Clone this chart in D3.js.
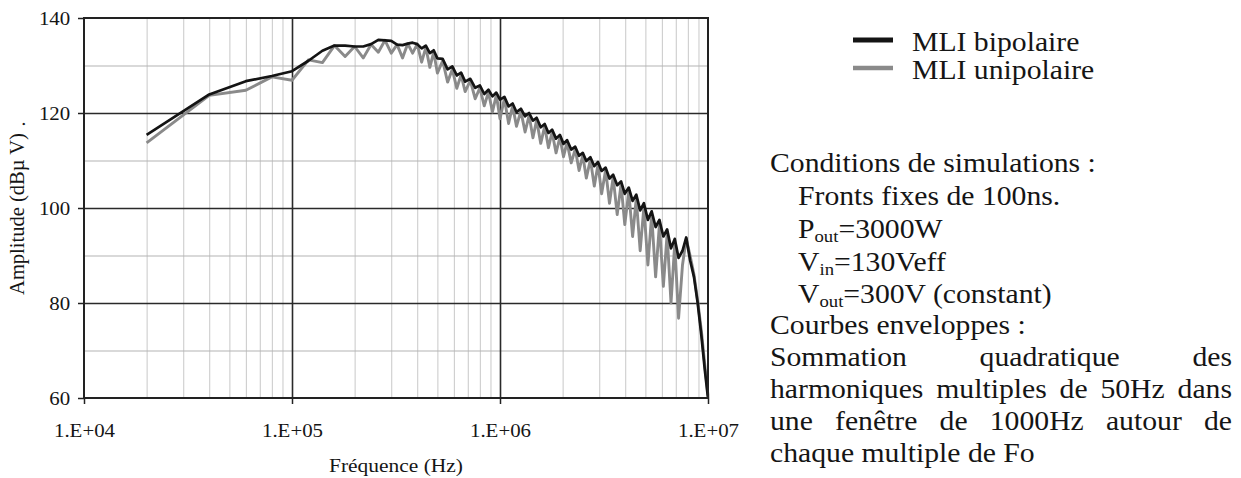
<!DOCTYPE html>
<html><head><meta charset="utf-8">
<script src="https://cdn.jsdelivr.net/npm/d3@7/dist/d3.min.js"></script>
<style>
body{margin:0;background:#fff}
svg{display:block}
text{font-family:"Liberation Serif","Times New Roman",serif;fill:#151515}
</style>
</head><body>
<svg id="chart" width="1241" height="478"></svg>
<script>
// ---- data (frequencies in kHz, amplitudes in dBµV) ----
const freqKHz = [20,40,60,80,100,120,140,160,180,200,220,240,260,280,300,320,340,360,380,400,
  420,440,460,480,500,530,560,590,620,650,680,720,760,800,840,880,920,960,1000,
  1050,1100,1150,1200,1260,1320,1380,1440,1500,1570,1640,1710,1780,1860,1940,2020,2100,
  2200,2300,2400,2500,2600,2720,2840,2960,3080,3220,3360,3500,3660,3820,3980,4160,
  4340,4520,4720,4920,5140,5360,5600,5840,6100,6360,6640,6920,
  7220,7540,7860,8200,8560,8920,9300,9650,10000];

const bipolaire = [115.4,123.9,126.7,127.8,128.8,131.0,133.1,134.2,134.2,134.0,134.0,134.5,135.4,135.3,135.2,134.4,134.3,134.6,134.8,134.5,
  133.6,134.2,132.6,133.2,131.5,131.4,129.2,129.8,127.9,128.5,
  126.6,127.2,125.3,125.8,124.0,124.9,123.5,124.3,122.8,123.4,
  121.4,122.0,120.2,120.9,119.3,120.0,118.4,119.0,117.0,117.7,
  115.8,116.5,114.6,115.4,113.5,114.3,112.3,112.9,111.0,111.6,
  109.9,110.7,108.8,109.7,107.8,108.5,106.2,107.0,104.8,105.6,
  103.0,104.3,101.5,102.8,99.5,101.0,97.5,99.3,96.0,97.5,
  94.0,95.5,91.5,93.5,89.5,91.0,93.8,89.0,85.5,80.0,
  73.0,66.0,60.0];

const unipolaire = [113.7,123.7,124.8,127.6,126.9,131.2,130.6,134.2,131.9,134.0,131.6,134.4,132.8,135.3,132.6,134.4,131.6,134.6,132.6,134.5,
  130.7,133.8,129.6,132.8,128.4,131.0,126.5,129.2,125.2,128.0,
  124.5,126.8,123.0,125.3,121.5,124.4,120.2,123.8,118.8,123.0,
  117.8,121.5,117.2,120.4,116.0,119.5,114.8,118.5,113.6,117.2,
  112.7,116.0,111.6,114.9,110.8,113.8,109.5,112.4,107.9,111.1,
  106.3,110.2,104.6,109.2,103.0,108.0,101.0,106.5,98.6,105.0,
  96.5,103.5,94.0,102.0,91.0,100.3,88.0,98.5,85.5,96.5,
  83.5,94.5,80.0,92.5,76.8,88.0,93.5,90.0,86.0,80.5,
  74.0,67.0,60.5];

const yTickValues = [60,80,100,120,140];
const yMinorValues = [70,90,110,130];
const xTickValues = [1e4,1e5,1e6,1e7];
const xTickLabels = ["1.E+04","1.E+05","1.E+06","1.E+07"];
const xMinorMultipliers = [2,3,4,5,6,7,8,9];
const legendLabels = ["MLI bipolaire","MLI unipolaire"];
const seriesColors = ["#141414","#8a8a8a"];
const xTitle = "Fréquence (Hz)";
const yTitle = "Amplitude (dBµ V)";

// ---- layout ----
const SX = 1.1; // horizontal stretch of the scanned text
const svg = d3.select("#chart");
const L = 84, R = 708, T = 18, B = 398;
const x = d3.scaleLog().domain([1e4,1e7]).range([L,R]);
const y = d3.scaleLinear().domain([60,140]).range([B,T]);

svg.append("rect").attr("width",1241).attr("height",478).attr("fill","#fff");

// minor grid (vertical)
const minorX = [];
[1e4,1e5,1e6].forEach(d => xMinorMultipliers.forEach(k => minorX.push(k*d)));
svg.append("g").attr("transform",`translate(0,${B})`)
  .call(d3.axisBottom(x).tickValues(minorX).tickSize(-(B-T)).tickFormat(""))
  .call(g => g.select(".domain").remove())
  .selectAll("line").attr("stroke","#c8c8c8").attr("stroke-width",1);
// minor grid (horizontal)
svg.append("g").attr("transform",`translate(${L},0)`)
  .call(d3.axisLeft(y).tickValues(yMinorValues).tickSize(-(R-L)).tickFormat(""))
  .call(g => g.select(".domain").remove())
  .selectAll("line").attr("stroke","#b4b4b4").attr("stroke-width",1.2);
// major grid
svg.append("g").attr("transform",`translate(0,${B})`)
  .call(d3.axisBottom(x).tickValues([1e5,1e6]).tickSize(-(B-T)).tickFormat(""))
  .call(g => g.select(".domain").remove())
  .selectAll("line").attr("stroke","#2a2a2a").attr("stroke-width",1.6);
svg.append("g").attr("transform",`translate(${L},0)`)
  .call(d3.axisLeft(y).tickValues([80,100,120]).tickSize(-(R-L)).tickFormat(""))
  .call(g => g.select(".domain").remove())
  .selectAll("line").attr("stroke","#2a2a2a").attr("stroke-width",1.6);

// curves
const rows = freqKHz.map((f,i) => ({f:f*1000, b:bipolaire[i], u:unipolaire[i]}));
const lineU = d3.line().x(d => x(d.f)).y(d => y(d.u));
const lineB = d3.line().x(d => x(d.f)).y(d => y(d.b));
svg.append("path").datum(rows).attr("d",lineU).attr("fill","none")
  .attr("stroke",seriesColors[1]).attr("stroke-width",2.9).attr("stroke-linejoin","round");
svg.append("path").datum(rows).attr("d",lineB).attr("fill","none")
  .attr("stroke",seriesColors[0]).attr("stroke-width",2.7).attr("stroke-linejoin","round");

// frame
svg.append("rect").attr("x",L).attr("y",T).attr("width",R-L).attr("height",B-T)
  .attr("fill","none").attr("stroke","#222").attr("stroke-width",2);

// axes
const yAx = svg.append("g").attr("transform",`translate(${L},0)`)
  .call(d3.axisLeft(y).tickValues(yTickValues).tickSize(6).tickFormat(d3.format("d")));
yAx.select(".domain").remove();
yAx.selectAll("line").attr("stroke","#222").attr("stroke-width",1.5);
yAx.selectAll("text").attr("font-family",null).attr("font-size",19).attr("fill","#151515")
  .attr("x",-12.5).attr("dy","0.34em").attr("transform",`scale(${SX},1)`);

const xAx = svg.append("g").attr("transform",`translate(0,${B})`)
  .call(d3.axisBottom(x).tickValues(xTickValues).tickSize(6).tickFormat((d,i) => xTickLabels[i]));
xAx.select(".domain").remove();
xAx.selectAll("line").attr("stroke","#222").attr("stroke-width",1.5);
xAx.selectAll("text").attr("font-family",null).attr("font-size",19).attr("fill","#151515")
  .attr("y",26).attr("transform",`scale(${SX},1)`);

// axis titles
svg.append("text").attr("font-size",19.5).attr("text-anchor","middle")
  .attr("transform",`translate(396,472) scale(${SX},1)`).text(xTitle);
svg.append("text").attr("font-size",20.5).attr("text-anchor","middle")
  .attr("transform",`translate(24,214) rotate(-90)`).text(yTitle);
svg.append("text").attr("font-size",20).attr("text-anchor","middle")
  .attr("transform",`translate(25,124) rotate(-90)`).text(".");

// legend
legendLabels.forEach((lab,i) => {
  const ly = [40,68][i];
  svg.append("line").attr("x1",853).attr("x2",893).attr("y1",ly).attr("y2",ly)
    .attr("stroke",seriesColors[i]).attr("stroke-width",i===0?5:4.5);
  svg.append("text").attr("font-size",27)
    .attr("transform",`translate(912,${ly+11}) scale(${SX},1)`).text(lab);
});

// conditions text
const FS = 27;
function line(xp, yp, parts){
  const t = svg.append("text").attr("font-size",FS)
    .attr("transform",`translate(${xp},${yp}) scale(${SX},1)`);
  parts.forEach((p,i) => {
    if (typeof p === "string") {
      const ts = t.append("tspan").text(p);
      if (i>0 && typeof parts[i-1] !== "string") ts.attr("dy",-4);
    } else {
      t.append("tspan").attr("font-size",17).attr("dy",4).text(p.sub);
    }
  });
  return t;
}
function justify(xp0, xp1, yp, words){
  const nodes = words.map(w => svg.append("text").attr("font-size",FS).text(w));
  const ws = nodes.map(n => n.node().getComputedTextLength()*SX);
  const gap = (xp1 - xp0 - d3.sum(ws)) / (words.length - 1);
  let cx = xp0;
  nodes.forEach((n,i) => { n.attr("transform",`translate(${cx},${yp}) scale(${SX},1)`); cx += ws[i] + gap; });
}
line(770,172,["Conditions de simulations :"]);
line(798,205,["Fronts fixes de 100ns."]);
line(798,238,["P",{sub:"out"},"=3000W"]);
line(798,271,["V",{sub:"in"},"=130Veff"]);
line(798,303,["V",{sub:"out"},"=300V (constant)"]);
line(770,334,["Courbes enveloppes :"]);
justify(770,1232,366,["Sommation","quadratique","des"]);
justify(770,1232,398,["harmoniques","multiples","de","50Hz","dans"]);
justify(770,1232,430,["une","fenêtre","de","1000Hz","autour","de"]);
line(770,462,["chaque multiple de Fo"]);
</script>
</body></html>
